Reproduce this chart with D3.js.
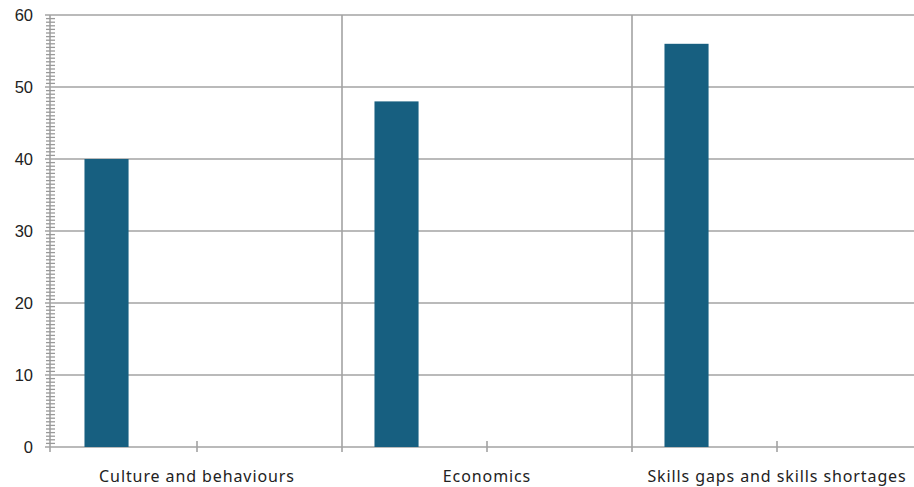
<!DOCTYPE html>
<html><head><meta charset="utf-8">
<script src="https://cdn.jsdelivr.net/npm/d3@7"></script>
<style>body{margin:0;background:#fff}svg{display:block}</style>
</head><body>
<svg id="c" width="914" height="487"></svg>
<script>
const categories = ["Culture and behaviours", "Economics", "Skills gaps and skills shortages"];
const values = [40, 48, 56];
const yTicks = [0, 10, 20, 30, 40, 50, 60];
const minorStep = 0.5;

const W = 914, H = 487;
const m = {left: 51, top: 15, bottom: 447};
const svg = d3.select("#c");
const x = d3.scaleBand().domain(categories).range([52, 922]).padding(0);
const y = d3.scaleLinear().domain([0, 60]).range([m.bottom, m.top]);
const grid = "#a3a3a3";

// horizontal gridlines
svg.append("g").selectAll("line").data(yTicks).join("line")
  .attr("x1", 45).attr("x2", W).attr("y1", d => y(d)).attr("y2", d => y(d))
  .attr("stroke", grid).attr("stroke-width", 1.6);

// vertical category separators
const seps = categories.slice(1);
svg.append("g").selectAll("line").data(seps).join("line")
  .attr("x1", d => x(d)).attr("x2", d => x(d)).attr("y1", y(60)).attr("y2", y(0) + 5)
  .attr("stroke", grid).attr("stroke-width", 1.6);

// category midpoint ticks
svg.append("g").selectAll("line").data(categories).join("line")
  .attr("x1", d => x(d) + x.bandwidth() / 2).attr("x2", d => x(d) + x.bandwidth() / 2)
  .attr("y1", y(0) - 6).attr("y2", y(0) + 5)
  .attr("stroke", grid).attr("stroke-width", 1.6);

// y axis line
svg.append("line").attr("x1", 50).attr("x2", 50).attr("y1", y(60)).attr("y2", y(0) + 5)
  .attr("stroke", grid).attr("stroke-width", 1.6);

// minor ticks
const minor = d3.range(0, 60 + 1e-9, minorStep).filter(v => Math.abs(v % 10) > 1e-9);
svg.append("g").selectAll("line").data(minor).join("line")
  .attr("x1", 46).attr("x2", 55).attr("y1", d => y(d)).attr("y2", d => y(d))
  .attr("stroke", "#999").attr("stroke-width", 1.3);

// bars
svg.append("g").selectAll("rect").data(categories).join("rect")
  .attr("x", d => x(d) + x.bandwidth() * 0.112)
  .attr("width", x.bandwidth() * 0.152)
  .attr("y", (d, i) => y(values[i]))
  .attr("height", (d, i) => y(0) - y(values[i]))
  .attr("fill", "#175f80");

// y labels
svg.append("g").selectAll("text").data(yTicks).join("text")
  .attr("x", 33).attr("y", d => y(d) + 6).attr("text-anchor", "end")
  .attr("font-family", "Liberation Sans, Arial, sans-serif").attr("font-size", 16.5)
  .attr("fill", "#222").text(d => d);

// x labels
svg.append("g").selectAll("text").data(categories).join("text")
  .attr("x", d => x(d) + x.bandwidth() / 2).attr("y", 482).attr("text-anchor", "middle")
  .attr("font-family", "Noto Sans, sans-serif").attr("font-size", 16)
  .attr("letter-spacing", 0.9)
  .attr("fill", "#222").text(d => d);
</script>
</body></html>
